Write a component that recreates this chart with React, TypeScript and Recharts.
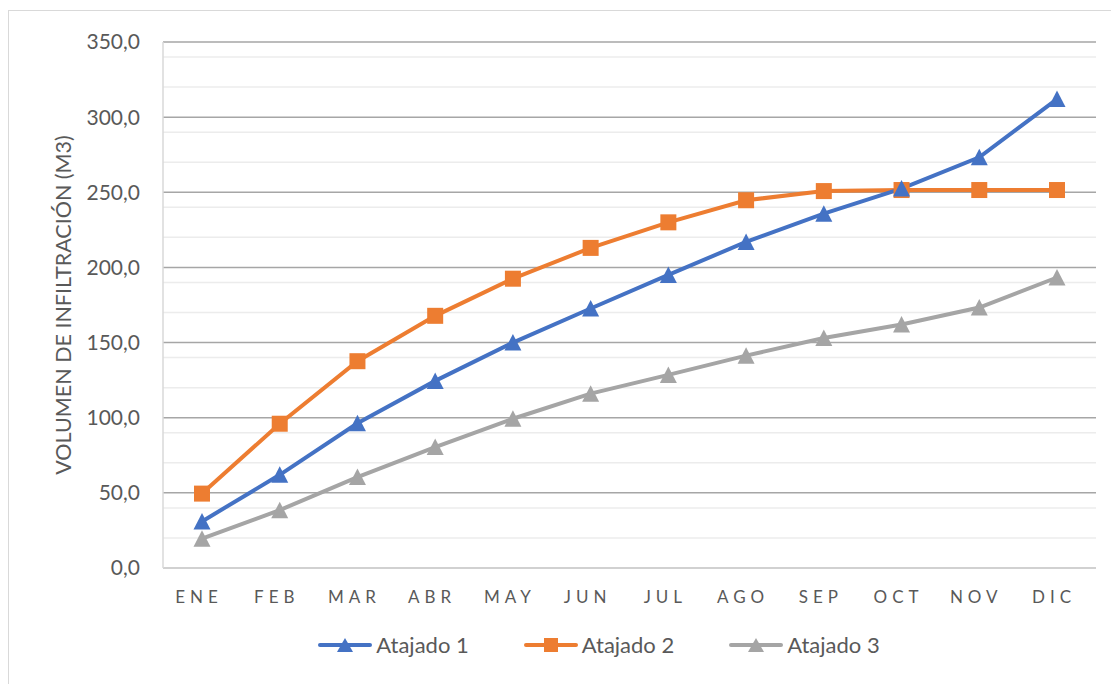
import { LineChart, Line, XAxis, YAxis, CartesianGrid, Legend } from 'recharts'

const months = ['ENE', 'FEB', 'MAR', 'ABR', 'MAY', 'JUN', 'JUL', 'AGO', 'SEP', 'OCT', 'NOV', 'DIC']
const atajado1 = [31, 62, 96.3, 124.5, 150, 172.7, 195, 217, 235.8, 252.5, 273.3, 312]
const atajado2 = [49.5, 96, 137.6, 167.8, 192.5, 213, 230, 244.7, 250.8, 251.5, 251.5, 251.5]
const atajado3 = [19.5, 38.5, 60.5, 80.5, 99.3, 116, 128.5, 141.3, 153, 162, 173.3, 193.3]
const yTicks = [0, 50, 100, 150, 200, 250, 300, 350]
const minorTicks = [
  10, 20, 30, 40, 60, 70, 80, 90, 110, 120, 130, 140, 160, 170, 180, 190,
  210, 220, 230, 240, 260, 270, 280, 290, 310, 320, 330, 340,
]

const data = months.map((m, i) => ({
  mes: m,
  a1: atajado1[i],
  a2: atajado2[i],
  a3: atajado3[i],
}))

const BLUE = '#4472C4'
const ORANGE = '#ED7D31'
const GRAY = '#A5A5A5'
const TEXT = '#595959'
const FONT = 'Lato, "Open Sans", sans-serif'

const fmt = (v: number) => v.toFixed(1).replace('.', ',')

const triangle = (color: string) => (props: any) => {
  const { cx, cy, index } = props
  if (cx == null || cy == null) return <g key={index} />
  return (
    <path
      key={index}
      d={`M${cx},${cy - 8.5} L${cx + 8.5},${cy + 8} L${cx - 8.5},${cy + 8} Z`}
      fill={color}
    />
  )
}

const square = (color: string) => (props: any) => {
  const { cx, cy, index } = props
  if (cx == null || cy == null) return <g key={index} />
  return <rect key={index} x={cx - 8} y={cy - 8} width={16} height={16} fill={color} />
}

const series = [
  { key: 'a1', name: 'Atajado 1', color: BLUE, marker: 'tri' },
  { key: 'a2', name: 'Atajado 2', color: ORANGE, marker: 'sq' },
  { key: 'a3', name: 'Atajado 3', color: GRAY, marker: 'tri' },
]

function LegendContent() {
  return (
    <div
      style={{
        display: 'flex',
        justifyContent: 'center',
        gap: 54,
        paddingTop: 13,
        paddingLeft: 92,
        fontFamily: FONT,
      }}
    >
      {series.map((s) => (
        <div key={s.key} style={{ display: 'flex', alignItems: 'center' }}>
          <svg width={56} height={20}>
            <line x1={3} y1={10} x2={53} y2={10} stroke={s.color} strokeWidth={4} strokeLinecap="round" />
            {s.marker === 'tri' ? (
              <path d="M28,3 L36,17 L20,17 Z" fill={s.color} />
            ) : (
              <rect x={21} y={3} width={14} height={14} fill={s.color} />
            )}
          </svg>
          <span style={{ marginLeft: 3, fontSize: 22, color: TEXT }}>{s.name}</span>
        </div>
      ))}
    </div>
  )
}

export default function App() {
  return (
    <div
      style={{
        width: 1110,
        height: 680,
        marginTop: 2,
        borderLeft: '1px solid #d9d9d9',
        borderTop: '1px solid #d9d9d9',
        background: '#fff',
      }}
    >
      <LineChart
        width={1110}
        height={672}
        data={data}
        margin={{ top: 31, right: 23, left: 0, bottom: 10 }}
      >
        <CartesianGrid
          vertical={false}
          stroke="#ececec"
          strokeWidth={1.5}
          horizontalValues={minorTicks}
        />
        <CartesianGrid vertical={false} stroke="#a6a6a6" strokeWidth={1.5} />
        <XAxis
          dataKey="mes"
          padding={{ left: 39, right: 39 }}
          tickLine={false}
          tickSize={0}
          tickMargin={23}
          height={50}
          axisLine={{ stroke: '#d9d9d9', strokeWidth: 1.5 }}
          tick={{ fill: TEXT, fontSize: 17, fontFamily: FONT, letterSpacing: 5, dx: -3 }}
        />
        <YAxis
          domain={[0, 350]}
          ticks={yTicks}
          width={154}
          tickLine={false}
          tickSize={0}
          tickMargin={23}
          tickFormatter={fmt}
          axisLine={{ stroke: '#d9d9d9', strokeWidth: 1.5 }}
          tick={{ fill: TEXT, fontSize: 21, fontFamily: FONT }}
          label={{
            value: 'VOLUMEN DE INFILTRACIÓN (M3)',
            angle: -90,
            position: 'insideLeft',
            offset: 54,
            style: { textAnchor: 'middle', fill: TEXT, fontSize: 21.5, fontFamily: FONT },
          }}
        />
        <Legend verticalAlign="bottom" height={55} content={<LegendContent />} />
        <Line
          dataKey="a3"
          name="Atajado 3"
          stroke={GRAY}
          strokeWidth={4}
          dot={triangle(GRAY)}
          isAnimationActive={false}
        />
        <Line
          dataKey="a2"
          name="Atajado 2"
          stroke={ORANGE}
          strokeWidth={4}
          dot={square(ORANGE)}
          isAnimationActive={false}
        />
        <Line
          dataKey="a1"
          name="Atajado 1"
          stroke={BLUE}
          strokeWidth={4}
          dot={triangle(BLUE)}
          isAnimationActive={false}
        />
      </LineChart>
    </div>
  )
}
